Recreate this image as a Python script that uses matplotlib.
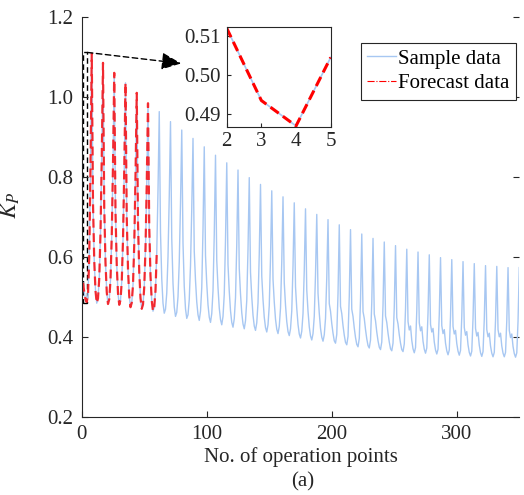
import numpy as np
import matplotlib
matplotlib.use('Agg')
import matplotlib.pyplot as plt
from matplotlib.lines import Line2D
from matplotlib.patches import Rectangle

# K_P at each operation point (x = 1..350)
kp = [
    # x = 1..7
    0.535, 0.512, 0.4935, 0.487, 0.5045, 0.600, 0.820,
    # one row per cycle: peak, then the 8 points after it
    1.108, 0.734, 0.590, 0.515, 0.484, 0.496, 0.546, 0.659, 0.846,
    1.085, 0.723, 0.585, 0.512, 0.482, 0.494, 0.542, 0.651, 0.832,
    1.060, 0.712, 0.579, 0.509, 0.480, 0.492, 0.538, 0.642, 0.816,
    1.035, 0.698, 0.569, 0.502, 0.474, 0.485, 0.530, 0.631, 0.799,
    1.010, 0.686, 0.562, 0.497, 0.470, 0.481, 0.524, 0.621, 0.783,
    0.984, 0.672, 0.552, 0.490, 0.464, 0.474, 0.516, 0.610, 0.766,
    0.963, 0.661, 0.545, 0.484, 0.459, 0.469, 0.509, 0.600, 0.751,
    0.938, 0.646, 0.534, 0.475, 0.451, 0.461, 0.500, 0.587, 0.733,
    0.917, 0.634, 0.526, 0.470, 0.446, 0.455, 0.493, 0.578, 0.719,
    0.896, 0.614, 0.541, 0.487, 0.455, 0.441, 0.464, 0.523, 0.669,
    0.875, 0.603, 0.533, 0.480, 0.449, 0.436, 0.458, 0.515, 0.656,
    0.854, 0.591, 0.523, 0.472, 0.443, 0.430, 0.451, 0.506, 0.642,
    0.835, 0.580, 0.514, 0.465, 0.436, 0.424, 0.445, 0.498, 0.630,
    0.817, 0.571, 0.507, 0.460, 0.432, 0.420, 0.440, 0.491, 0.619,
    0.798, 0.561, 0.500, 0.454, 0.427, 0.416, 0.435, 0.485, 0.607,
    0.781, 0.552, 0.493, 0.449, 0.423, 0.412, 0.430, 0.478, 0.597,
    0.765, 0.544, 0.487, 0.444, 0.419, 0.408, 0.426, 0.472, 0.587,
    0.750, 0.535, 0.479, 0.438, 0.413, 0.403, 0.420, 0.465, 0.577,
    0.735, 0.525, 0.471, 0.431, 0.407, 0.397, 0.414, 0.458, 0.566,
    0.720, 0.517, 0.464, 0.425, 0.402, 0.392, 0.408, 0.451, 0.556,
    0.706, 0.509, 0.459, 0.421, 0.399, 0.389, 0.405, 0.446, 0.548,
    0.693, 0.483, 0.464, 0.433, 0.409, 0.390, 0.384, 0.406, 0.508,
    0.680, 0.476, 0.458, 0.428, 0.404, 0.386, 0.380, 0.401, 0.500,
    0.668, 0.469, 0.451, 0.422, 0.398, 0.381, 0.375, 0.396, 0.492,
    0.657, 0.463, 0.446, 0.418, 0.395, 0.378, 0.372, 0.392, 0.486,
    0.646, 0.457, 0.440, 0.412, 0.390, 0.374, 0.368, 0.387, 0.479,
    0.637, 0.452, 0.436, 0.409, 0.387, 0.370, 0.365, 0.384, 0.474,
    0.628, 0.448, 0.432, 0.405, 0.384, 0.368, 0.363, 0.382, 0.469,
    0.619, 0.438, 0.417, 0.427, 0.391, 0.370, 0.360, 0.373, 0.464,
    0.612, 0.435, 0.415, 0.425, 0.389, 0.369, 0.359, 0.372, 0.460,
    0.605, 0.431, 0.412, 0.421, 0.387, 0.367, 0.357, 0.369, 0.456,
    0.598, 0.428, 0.408, 0.418, 0.384, 0.365, 0.355, 0.367, 0.452,
    0.593, 0.426, 0.407, 0.416, 0.383, 0.364, 0.354, 0.366, 0.450,
    0.588, 0.423, 0.404, 0.413, 0.380, 0.361, 0.352, 0.364, 0.446,
    0.583, 0.421, 0.402, 0.411, 0.379, 0.360, 0.351, 0.363, 0.444,
    0.578, 0.418, 0.400, 0.409, 0.377, 0.359, 0.350, 0.361, 0.441,
    0.576, 0.418, 0.400, 0.409, 0.377, 0.359, 0.350, 0.361, 0.440,
    0.573, 0.416, 0.398, 0.407, 0.376, 0.358, 0.349, 0.360, 0.439,
    0.573,
]
n_forecast = 60          # forecast covers the first 60 points
inset_x = [2, 3, 4, 5]   # zoomed window

xticks = [0, 100, 200, 300]
yticks = [0.2, 0.4, 0.6, 0.8, 1.0, 1.2]
inset_yticks = [0.49, 0.50, 0.51]

blue = '#a7c7f2'
dark = '#262626'

plt.rcParams['font.family'] = 'Liberation Serif'
plt.rcParams['mathtext.fontset'] = 'stix'
plt.rcParams['font.size'] = 15

x = np.arange(1, len(kp) + 1)
kp = np.array(kp)

fig = plt.figure(figsize=(5.24, 4.95), dpi=100)
ax = fig.add_axes([0.156, 0.158, 0.835, 0.808])
ax.plot(x, kp, color=blue, lw=1)
ax.plot(x[:n_forecast], kp[:n_forecast], color='red', lw=1.6,
        ls=(0, (4, 2.5)), alpha=0.8)
ax.set_xlim(0, 350)
ax.set_ylim(0.2, 1.2)
ax.set_xticks(xticks)
ax.set_yticks(yticks)
ax.set_yticklabels(['%.1f' % v for v in yticks])
ax.tick_params(direction='in', length=4, right=True, top=False,
               color=dark, labelcolor=dark, pad=6)
for s in ['top', 'right']:
    ax.spines[s].set_visible(False)
for s in ['left', 'bottom']:
    ax.spines[s].set_color(dark)
    ax.spines[s].set_linewidth(0.8)

ax.set_xlabel('No. of operation points', color=dark)
ax.xaxis.set_label_coords(0.5, -0.076)
ax.set_ylabel(r'$K_P$', color=dark, fontsize=17)
ax.yaxis.set_label_coords(-0.137, 0.53)
fig.text(0.578, 0.026, '(a)', ha='center', va='center', color=dark)

# dashed box around the zoomed part and the arrow to the inset
ax.add_patch(Rectangle((0.8, 0.485), 3.7, 0.626, fill=False, ec='k',
                       lw=1, ls=(0, (4, 2.5))))
ax.annotate('', xy=(79.5, 1.0835), xytext=(4.5, 1.111),
            arrowprops=dict(arrowstyle='-|>,head_length=0.8,head_width=0.35',
                            color='k', lw=1, ls=(0, (4, 2.5)),
                            shrinkA=0, shrinkB=0))

handles = [Line2D([], [], color=blue, lw=1),
           Line2D([], [], color='red', lw=0.8, ls='-.')]
leg = ax.legend(handles, ['Sample data', 'Forecast data'], loc='upper right',
                bbox_to_anchor=(0.992, 0.935), borderaxespad=0,
                fancybox=False, framealpha=1, edgecolor=dark,
                handlelength=1.4, handletextpad=0.1, borderpad=0.3,
                labelspacing=0.25)
leg.get_frame().set_linewidth(0.8)

# inset
axin = fig.add_axes([0.4326, 0.744, 0.1985, 0.2008])
i0, i1 = inset_x[0] - 1, inset_x[-1]
axin.plot(x[i0:i1], kp[i0:i1], color=blue, lw=1.2)
axin.plot(x[i0:i1], kp[i0:i1], color='red', lw=2.2, ls=(0, (3.3, 1.7)))
axin.set_xlim(inset_x[0], inset_x[-1])
axin.set_ylim(0.4868, 0.5122)
axin.set_xticks(inset_x)
axin.set_yticks(inset_yticks)
axin.set_yticklabels(['%.2f' % v for v in inset_yticks])
axin.tick_params(direction='in', length=3, color=dark, labelcolor=dark, pad=4)
for s in axin.spines.values():
    s.set_color(dark)
    s.set_linewidth(0.8)

fig.savefig('out.png', dpi=100)
